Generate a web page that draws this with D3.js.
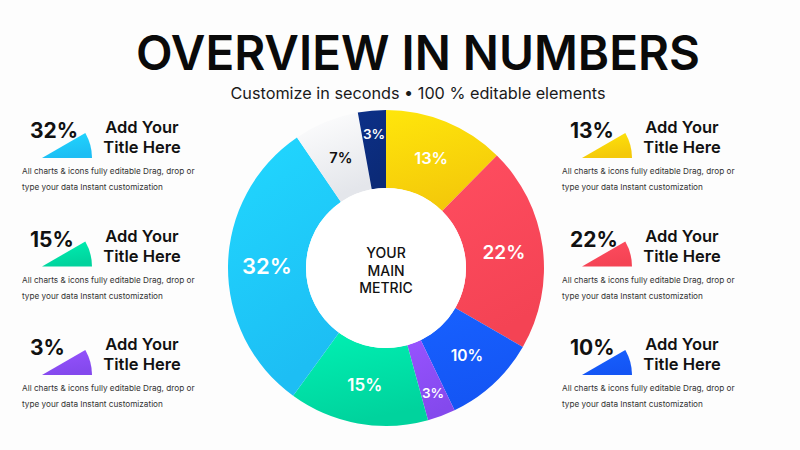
<!DOCTYPE html>
<html>
<head>
<meta charset="utf-8">
<script src="https://cdn.jsdelivr.net/npm/d3@7"></script>
<style>
  body { margin: 0; background: #fdfdfd; }
  svg { display: block; font-family: Inter, "Noto Sans", sans-serif; }
</style>
</head>
<body>
<script>
// donut slices, clockwise from 12 o'clock
var sliceValues = [13, 22, 10, 3, 15, 32, 7, 3];
var sliceColors = ["#ffd20a", "#ff4658", "#1559ff", "#8a4cf7", "#00dca4", "#1ec6ff", "#eef0f5", "#0b2c7c"];

// side panels
var leftValues = [32, 15, 3];
var leftColors = ["#1ec6ff", "#00dca4", "#8a4cf7"];
var rightValues = [13, 22, 10];
var rightColors = ["#ffd20a", "#ff4658", "#1559ff"];

var titleText = "OVERVIEW IN NUMBERS";
var subtitleText = "Customize in seconds \u2022 100 % editable elements";
var centerLines = ["YOUR", "MAIN", "METRIC"];
var panelTitle = ["Add Your", "Title Here"];
var panelBody = ["All charts & icons fully editable Drag, drop or", "type your data Instant customization"];

var width = 800, height = 450;

var svg = d3.select("body").append("svg")
  .attr("width", width).attr("height", height);

var defs = svg.append("defs");

// gradients, a bit lighter at the top
function addGradient(id, c) {
  var g = defs.append("linearGradient").attr("id", id)
    .attr("x1", 0).attr("y1", 0).attr("x2", 0.3).attr("y2", 1);
  g.append("stop").attr("offset", "0%").attr("stop-color", d3.color(c).brighter(0.25));
  g.append("stop").attr("offset", "100%").attr("stop-color", d3.color(c).darker(0.12));
}
sliceColors.forEach(function(c, i) { addGradient("sg" + i, c); });

/* title */
svg.append("text")
  .attr("x", 418).attr("y", 70)
  .attr("text-anchor", "middle")
  .attr("textLength", 564).attr("lengthAdjust", "spacingAndGlyphs")
  .style("font-size", "48px").style("font-weight", 600).style("fill", "#0a0a0a")
  .text(titleText);

svg.append("text")
  .attr("x", 418).attr("y", 99)
  .attr("text-anchor", "middle")
  .attr("textLength", 375).attr("lengthAdjust", "spacingAndGlyphs")
  .style("font-size", "16px").style("fill", "#1a1a1a")
  .text(subtitleText);

/* donut */
var cx = 386, cy = 268, outerR = 158, innerR = 80;

var pie = d3.pie().sort(null).value(function(d) { return d; });
var arc = d3.arc().innerRadius(innerR).outerRadius(outerR);
var labelArc = d3.arc().innerRadius(119).outerRadius(119);
var smallLabelArc = d3.arc().innerRadius(134).outerRadius(134);
var labelSize = d3.scaleLinear().domain([3, 32]).range([13.5, 22]).clamp(true);

var donut = svg.append("g").attr("transform", "translate(" + cx + "," + cy + ")");
var arcs = pie(sliceValues);

donut.selectAll("path.slice")
  .data(arcs)
  .enter().append("path")
  .attr("class", "slice")
  .attr("d", arc)
  .style("fill", function(d, i) { return "url(#sg" + i + ")"; });

donut.append("circle").attr("r", innerR).style("fill", "#ffffff");

donut.selectAll("text.lbl")
  .data(arcs)
  .enter().append("text")
  .attr("class", "lbl")
  .attr("transform", function(d) {
    var p = d.value < 5 ? smallLabelArc.centroid(d) : labelArc.centroid(d);
    return "translate(" + p + ")";
  })
  .attr("text-anchor", "middle")
  .attr("dy", "0.36em")
  .style("font-size", function(d) { return labelSize(d.value) + "px"; })
  .style("font-weight", 600)
  .style("fill", function(d, i) { return d3.hsl(sliceColors[i]).l > 0.85 ? "#111" : "#fff"; })
  .text(function(d) { return d.value + "%"; });

donut.selectAll("text.center")
  .data(centerLines)
  .enter().append("text")
  .attr("class", "center")
  .attr("x", 0)
  .attr("y", function(d, i) { return -10 + i * 17.5; })
  .attr("text-anchor", "middle")
  .style("font-size", "14px").style("font-weight", 500).style("fill", "#111")
  .text(function(d) { return d; });

/* side panels */
var wedge = d3.arc().innerRadius(0).outerRadius(50)
  .startAngle(Math.PI / 3).endAngle(Math.PI / 2);

function drawPanels(values, colors, x0, idPrefix) {
  values.forEach(function(v, i) {
    var y0 = 158 + i * 108.5;
    var g = svg.append("g").attr("transform", "translate(" + x0 + "," + y0 + ")");
    var gid = idPrefix + i;
    addGradient(gid, colors[i]);

    g.append("path").attr("d", wedge).style("fill", "url(#" + gid + ")");

    g.append("text")
      .attr("x", -12).attr("y", -20)
      .style("font-size", "21px").style("font-weight", 700).style("fill", "#111")
      .text(v + "%");

    g.selectAll("text.pt")
      .data(panelTitle)
      .enter().append("text")
      .attr("class", "pt")
      .attr("x", 100).attr("y", function(d, j) { return -25 + j * 20; })
      .attr("text-anchor", "middle")
      .style("font-size", "16.5px").style("font-weight", 600).style("fill", "#111")
      .text(function(d) { return d; });

    g.selectAll("text.pb")
      .data(panelBody)
      .enter().append("text")
      .attr("class", "pb")
      .attr("x", -20).attr("y", function(d, j) { return 16 + j * 16; })
      .style("font-size", "8.2px").style("fill", "#333")
      .text(function(d) { return d; });
  });
}

drawPanels(leftValues, leftColors, 42, "lg");
drawPanels(rightValues, rightColors, 582, "rg");
</script>
</body>
</html>
